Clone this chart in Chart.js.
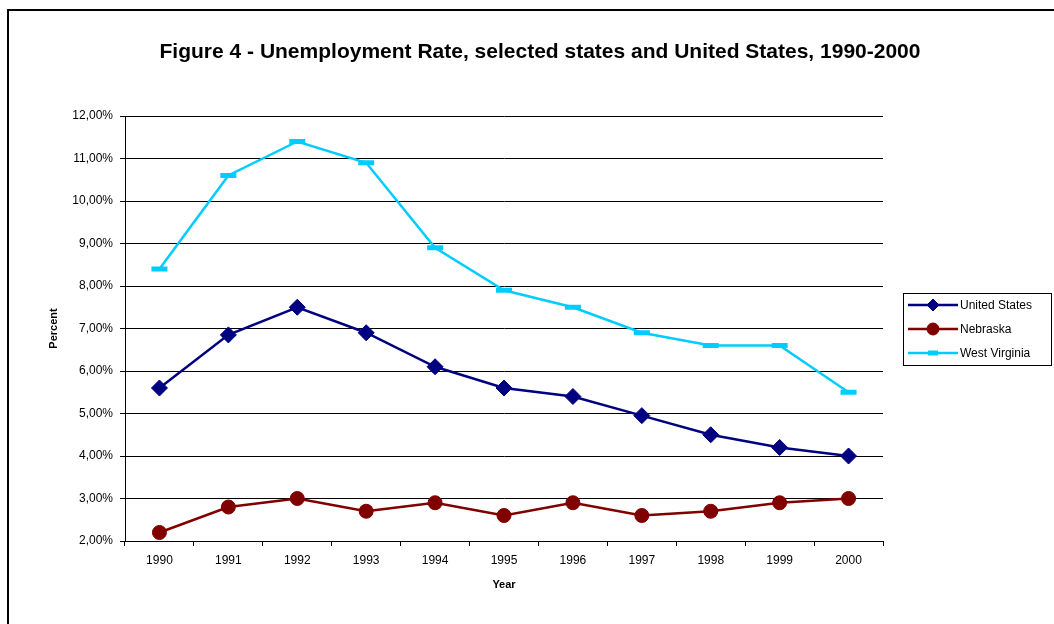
<!DOCTYPE html>
<html>
<head>
<meta charset="utf-8">
<script src="https://cdn.jsdelivr.net/npm/chart.js@4/dist/chart.umd.min.js"></script>
<style>
  html, body { margin: 0; padding: 0; background: #fff; }
  #wrap { width: 1054px; height: 624px; }
</style>
</head>
<body>
<div id="wrap"><canvas id="grafico" width="1054" height="624"></canvas></div>
<script>
const years = ['1990','1991','1992','1993','1994','1995','1996','1997','1998','1999','2000'];
const unitedStates = [5.6, 6.85, 7.5, 6.9, 6.1, 5.6, 5.4, 4.95, 4.5, 4.2, 4.0];
const nebraska = [2.2, 2.8, 3.0, 2.7, 2.9, 2.6, 2.9, 2.6, 2.7, 2.9, 3.0];
const westVirginia = [8.4, 10.6, 11.4, 10.9, 8.9, 7.9, 7.5, 6.9, 6.6, 6.6, 5.5];

const titulo = 'Figure 4 - Unemployment Rate, selected states and United States, 1990-2000';
const fuente = '"Liberation Sans", Arial, sans-serif';

// marco, fondo y titulo centrado en toda la figura
const marco = {
    id: 'marco',
    beforeDraw(chart) {
        const ctx = chart.ctx;
        ctx.save();
        ctx.fillStyle = '#fff';
        ctx.fillRect(0, 0, chart.width, chart.height);
        ctx.strokeStyle = '#000';
        ctx.lineWidth = 2;
        ctx.beginPath();
        ctx.moveTo(8, chart.height);
        ctx.lineTo(8, 10);
        ctx.lineTo(chart.width, 10);
        ctx.stroke();
        ctx.fillStyle = '#000';
        ctx.font = 'bold 21px ' + fuente;
        ctx.textAlign = 'center';
        ctx.textBaseline = 'middle';
        ctx.fillText(titulo, 540, 52);
        ctx.restore();
    }
};

// leyenda con caja, a la derecha
const leyenda = {
    id: 'leyenda',
    afterDraw(chart) {
        const ctx = chart.ctx;
        const x0 = 903, y0 = 293, w = 148, h = 72;
        ctx.save();
        ctx.strokeStyle = '#000';
        ctx.lineWidth = 1;
        ctx.strokeRect(x0 + 0.5, y0 + 0.5, w, h);
        chart.data.datasets.forEach((ds, i) => {
            const y = y0 + 12 + i * 24;
            ctx.strokeStyle = ds.borderColor;
            ctx.lineWidth = 2.5;
            ctx.beginPath();
            ctx.moveTo(908, y);
            ctx.lineTo(958, y);
            ctx.stroke();
            ctx.fillStyle = ds.pointBackgroundColor;
            ctx.strokeStyle = ds.pointBorderColor;
            ctx.lineWidth = ds.pointBorderWidth;
            Chart.helpers.drawPoint(ctx, {
                pointStyle: ds.pointStyle,
                radius: ds.legendRadius,
                borderWidth: ds.pointBorderWidth,
                rotation: 0
            }, 933, y);
            ctx.fillStyle = '#000';
            ctx.font = '12px ' + fuente;
            ctx.textAlign = 'left';
            ctx.textBaseline = 'middle';
            ctx.fillText(ds.label, 960, y + 1);
        });
        ctx.restore();
    }
};

new Chart(document.querySelector('#grafico'), {
    type: 'line',
    data: {
        labels: years,
        datasets: [
            {
                label: 'United States',
                data: unitedStates,
                borderColor: '#000080',
                backgroundColor: '#000080',
                pointBackgroundColor: '#000080',
                pointBorderColor: '#000080',
                pointStyle: 'rectRot',
                pointRadius: 8,
                pointBorderWidth: 1,
                legendRadius: 6,
                borderWidth: 2.5
            },
            {
                label: 'Nebraska',
                data: nebraska,
                borderColor: '#800000',
                backgroundColor: '#800000',
                pointBackgroundColor: '#800000',
                pointBorderColor: '#800000',
                pointStyle: 'circle',
                pointRadius: 7,
                pointBorderWidth: 1,
                legendRadius: 6,
                borderWidth: 2.5
            },
            {
                label: 'West Virginia',
                data: westVirginia,
                borderColor: '#00CCFF',
                backgroundColor: '#00CCFF',
                pointBackgroundColor: '#00CCFF',
                pointBorderColor: '#00CCFF',
                pointStyle: 'line',
                pointRadius: 8,
                pointBorderWidth: 5,
                legendRadius: 5,
                borderWidth: 2.5
            }
        ]
    },
    options: {
        responsive: false,
        animation: false,
        layout: { padding: { left: 43, right: 171, top: 116, bottom: 28 } },
        plugins: {
            legend: { display: false },
            tooltip: { enabled: false },
            title: { display: false }
        },
        scales: {
            x: {
                offset: true,
                afterFit(scale) { scale.height = 55; },
                grid: { offset: true, drawOnChartArea: false, drawTicks: true, tickLength: 5, color: '#000' },
                border: { color: '#000', width: 1 },
                ticks: { color: '#000', padding: 7, font: { family: fuente, size: 12 } },
                title: { display: true, text: 'Year', color: '#000', font: { family: fuente, size: 11, weight: 'bold' } }
            },
            y: {
                min: 2,
                max: 12,
                afterFit(scale) { scale.width = 82; },
                grid: { color: '#000', tickLength: 5 },
                border: { color: '#000', width: 1 },
                ticks: {
                    stepSize: 1,
                    color: '#000',
                    padding: 7,
                    font: { family: fuente, size: 12 },
                    callback: v => v.toFixed(2).replace('.', ',') + '%'
                },
                title: { display: true, text: 'Percent', color: '#000', font: { family: fuente, size: 11, weight: 'bold' } }
            }
        }
    },
    plugins: [marco, leyenda]
});
</script>
</body>
</html>
